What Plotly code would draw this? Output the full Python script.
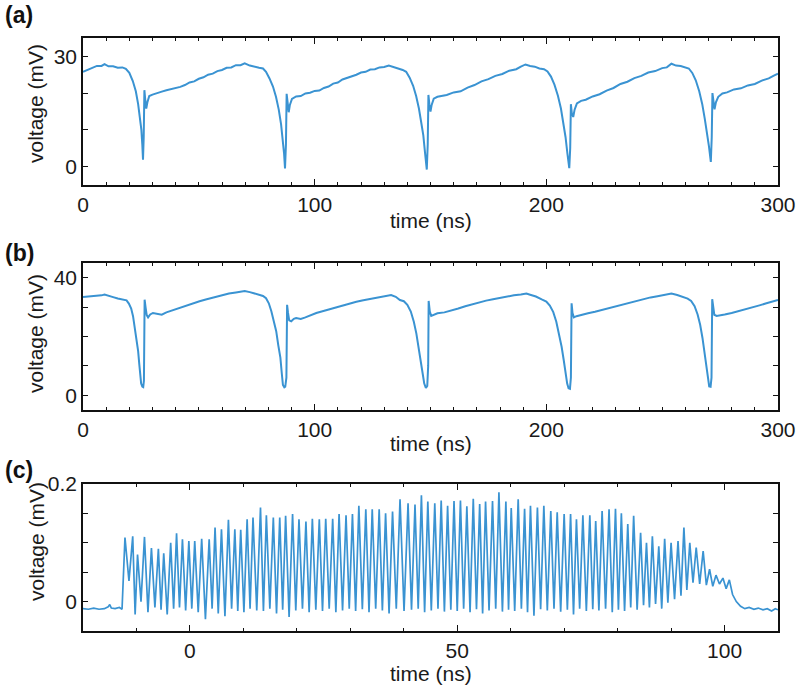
import plotly.graph_objects as go

# ---------------- Panel (a) ----------------
a_t = [0, 2, 4, 6, 8, 9.3, 11, 13, 15, 17, 18.5, 20, 21.5, 22.8, 23.8, 24.6, 25.2, 25.6, 25.9,
       26.2, 26.5, 26.9, 27.3, 27.8, 28.6, 30, 32, 34, 36, 38, 40, 42, 44, 46, 48, 50, 52, 54,
       56, 58, 60, 62, 64, 66, 68, 69.8, 72, 74, 76, 77.7, 79, 80.5, 82, 83.3, 84.5, 85.5, 86.2,
       86.8, 87.2, 87.6, 87.9, 88.3, 88.8, 89.3, 90.2, 92, 94, 96, 98, 100, 102, 104, 106, 108,
       110, 112, 114, 116, 118, 120, 122, 124, 126, 128, 130, 132, 134, 136, 138, 139.5, 141,
       142.5, 143.8, 145, 146, 146.9, 147.6, 148.4, 148.8, 149.1, 149.5, 150.0, 150.5, 151.4,
       153, 155, 157, 160, 163, 166, 169, 172, 175, 178, 181, 184, 187, 189, 191, 193, 195, 197,
       199, 200.5, 202, 203.5, 205, 206.3, 207.4, 208.3, 209.1, 209.9, 210.3, 210.6, 211.0,
       211.6, 212.2, 213.2, 215, 217, 220, 223, 226, 229, 232, 235, 238, 241, 244, 247, 250,
       252, 254, 256, 258, 260, 261.5, 263, 264.5, 266, 267.3, 268.4, 269.3, 270.2, 271.0,
       271.4, 271.7, 272.1, 272.6, 273.2, 274.2, 276, 278, 281, 284, 287, 290, 293, 296, 298, 300]
a_v = [25.8, 26.4, 26.8, 27.4, 27.4, 27.9, 27.3, 27.3, 26.9, 27.0, 26.6, 25.5, 23.3, 20.5, 17.0,
       13.5, 10.0, 6.0, 1.9, 8.0, 20.8, 18.0, 15.8, 17.5, 19.2, 19.6, 20.1, 20.4, 20.8, 21.1,
       21.3, 21.7, 22.2, 22.9, 23.2, 23.9, 24.3, 25.0, 25.3, 26.0, 26.3, 26.9, 27.0, 27.6, 27.6,
       28.1, 27.5, 27.3, 26.9, 26.7, 25.8, 24.0, 21.8, 19.0, 15.5, 11.5, 8.0, 3.5, -0.5, 6.0,
       19.8, 17.0, 14.8, 16.8, 18.4, 19.1, 19.2, 19.9, 20.1, 20.6, 20.7, 21.4, 21.8, 22.6, 22.9,
       23.7, 24.1, 24.7, 25.0, 25.6, 25.8, 26.4, 26.5, 27.0, 27.1, 27.5, 27.0, 26.7, 26.3, 25.8,
       24.2, 22.0, 19.2, 15.8, 12.0, 8.5, 4.0, -0.8, 6.0, 19.5, 17.0, 15.0, 16.8, 18.5, 19.0,
       19.3, 19.5, 20.2, 20.5, 21.5, 22.2, 23.2, 23.8, 24.7, 25.2, 26.1, 26.5, 27.2, 27.8, 27.4,
       27.2, 26.7, 26.5, 25.9, 24.5, 22.3, 19.3, 15.8, 11.8, 8.0, 3.5, -0.4, 5.0, 17.0, 14.5,
       13.5, 15.5, 17.2, 17.9, 18.2, 19.1, 19.7, 20.7, 21.4, 22.5, 23.1, 24.1, 24.7, 25.6, 26.0,
       26.8, 27.0, 28.0, 27.5, 27.4, 26.9, 26.7, 25.5, 23.5, 20.5, 17.0, 13.0, 9.5, 5.5, 1.3,
       8.0, 20.0, 17.5, 15.6, 17.5, 19.0, 19.9, 20.2, 21.0, 21.3, 22.1, 22.5, 23.4, 24.0, 24.7,
       25.3]

# ---------------- Panel (b) ----------------
b_t = [0, 2, 4, 6, 8, 9.3, 11, 13, 15, 17.3, 18.8, 19.8, 20.8, 21.6, 22.5, 23.2, 23.8, 24.3,
       24.7, 25.1, 25.6, 26.0, 26.3, 26.6, 27.0, 27.5, 28.1, 29, 30.2, 32, 34, 36, 37.4, 40,
       43.2, 46, 48, 50.3, 53, 56, 58, 60.4, 63, 66, 68, 69.8, 72, 74, 76, 77.7, 79, 80.2, 81.3,
       82.3, 83.4, 84.3, 85.2, 85.8, 86.3, 86.9, 87.3, 87.8, 88.1, 88.5, 89.0, 89.9, 91, 92, 94,
       96, 98, 100.7, 103, 106, 109, 112, 115, 118, 121, 124, 127, 129, 131, 133, 135, 136.8,
       138.5, 140, 141.5, 142.8, 143.9, 144.9, 145.8, 146.6, 147.3, 148.0, 148.6, 149.0, 149.2,
       149.7, 150.3, 151.5, 153, 156, 159, 162, 165, 168, 171, 174, 177, 180, 183, 186, 189,
       191.4, 193, 195.5, 198, 200, 201.5, 203, 204.3, 205.5, 206.6, 207.5, 208.3, 209.0, 209.6,
       210.2, 210.6, 210.9, 211.3, 211.9, 213, 215, 218, 221, 224, 227, 230, 233, 236, 239, 242,
       245, 248, 251, 254, 256.5, 259, 261, 262.5, 264, 265.3, 266.4, 267.4, 268.3, 269.0, 269.7,
       270.3, 270.9, 271.3, 271.6, 272.0, 272.5, 273.5, 275, 277, 280, 283, 286, 289, 292, 295,
       298, 300]
b_v = [33.4, 33.5, 33.7, 33.8, 34.0, 34.3, 34.0, 33.4, 32.9, 32.5, 32.3, 31.2, 29.5, 26.9, 22.5,
       18.5, 15.0, 10.5, 7.0, 4.0, 3.0, 2.8, 5.0, 32.5, 30.0, 27.3, 26.5, 27.5, 28.0, 27.6, 27.4,
       28.2, 28.6, 29.2, 30.0, 30.8, 31.4, 32.0, 32.6, 33.2, 33.6, 34.2, 34.6, 35.0, 35.3, 35.5,
       35.1, 34.6, 34.2, 33.8, 33.0, 31.3, 28.6, 25.5, 21.8, 17.0, 12.8, 7.5, 3.5, 2.7, 2.9, 6.0,
       30.8, 28.0, 25.5, 25.2, 26.0, 26.3, 26.0, 26.5, 27.2, 28.0, 28.5, 29.2, 29.9, 30.6, 31.2,
       31.8, 32.3, 32.8, 33.3, 33.6, 34.0, 34.1, 33.5, 32.4, 32.0, 30.8, 28.5, 25.0, 21.0, 16.5,
       12.0, 7.5, 4.0, 2.5, 3.2, 10.0, 32.1, 28.5, 27.0, 27.4, 27.9, 28.2, 28.8, 29.5, 30.3,
       31.0, 31.6, 32.2, 32.7, 33.2, 33.6, 34.0, 34.3, 34.6, 34.2, 33.6, 32.6, 31.9, 30.5, 28.3,
       25.0, 21.0, 16.5, 12.0, 7.5, 4.0, 2.4, 2.2, 6.0, 31.3, 28.0, 26.5, 26.9, 27.4, 27.9, 28.4,
       29.0, 29.7, 30.4, 31.0, 31.6, 32.2, 32.8, 33.3, 33.7, 34.1, 34.6, 34.1, 33.4, 32.9, 32.1,
       30.3, 27.5, 24.0, 19.5, 14.5, 9.5, 5.5, 3.0, 2.9, 6.0, 32.7, 29.5, 27.4, 27.0, 27.3, 27.5,
       28.0, 28.6, 29.2, 29.9, 30.6, 31.3, 32.0, 32.4]

# ---------------- Panel (c) ----------------
c_pre_t = [-20, -19, -18, -17, -16, -15.3, -15, -14.7, -14, -13.2, -12.7]
c_pre_v = [-0.012, -0.013, -0.011, -0.013, -0.012, -0.009, -0.005, -0.011, -0.012, -0.010, -0.013]

c_peak_t = [-12.15, -10.7, -9.8, -8.5, -7.2, -5.9, -4.9, -3.6, -2.5, -1.4,
            -0.2, 0.9, 2.2, 3.6, 4.7, 5.9, 7.2, 8.4, 9.5, 10.7,
            11.8, 13.2, 14.3, 15.6, 16.8, 17.9, 19.2, 20.4, 21.7, 22.9,
            24.2, 25.4, 26.7, 27.9, 29.2, 30.4, 31.6, 32.9, 34.1, 35.4,
            36.6, 37.9, 39.3, 40.8, 42.1, 43.3, 44.5, 45.8, 47.0, 48.2,
            49.4, 50.6, 51.8, 53.0, 54.2, 55.3, 56.6, 57.8, 59.1, 60.1,
            61.4, 62.6, 63.7, 65.0, 66.2, 67.5, 68.7, 70.0, 71.2, 72.3,
            73.5, 74.8, 75.9, 77.1, 78.4, 79.6, 80.7, 81.9, 83.0, 84.3,
            85.4, 86.5, 87.7, 88.8, 90.0, 91.3, 92.4, 93.5, 94.7, 96.0,
            97.2, 98.4, 99.7, 100.9]
c_peak_v = [0.109, 0.111, 0.080, 0.110, 0.091, 0.090, 0.082, 0.100, 0.116, 0.106,
            0.103, 0.103, 0.107, 0.106, 0.126, 0.123, 0.139, 0.123, 0.122, 0.140,
            0.143, 0.160, 0.147, 0.143, 0.143, 0.146, 0.149, 0.140, 0.136, 0.141,
            0.140, 0.141, 0.141, 0.149, 0.147, 0.149, 0.163, 0.157, 0.157, 0.157,
            0.150, 0.153, 0.174, 0.167, 0.165, 0.181, 0.170, 0.167, 0.172, 0.163,
            0.171, 0.172, 0.162, 0.175, 0.166, 0.170, 0.171, 0.186, 0.170, 0.159,
            0.174, 0.158, 0.163, 0.160, 0.163, 0.154, 0.152, 0.149, 0.149, 0.140,
            0.147, 0.147, 0.137, 0.154, 0.157, 0.158, 0.150, 0.132, 0.146, 0.117,
            0.100, 0.111, 0.094, 0.107, 0.100, 0.103, 0.126, 0.100, 0.092, 0.086,
            0.055, 0.045, 0.040, 0.037]

c_trough_t = [-11.4, -10.25, -9.15, -7.85, -6.55, -5.4, -4.25, -3.05, -1.95, -0.8,
              0.35, 1.55, 2.9, 4.15, 5.3, 6.55, 7.8, 8.95, 10.1, 11.25,
              12.5, 13.75, 14.95, 16.2, 17.35, 18.55, 19.8, 21.05, 22.3, 23.55,
              24.8, 26.05, 27.3, 28.55, 29.8, 31.0, 32.25, 33.5, 34.75, 36.0,
              37.25, 38.6, 40.05, 41.45, 42.7, 43.9, 45.15, 46.4, 47.6, 48.8,
              50.0, 51.2, 52.4, 53.6, 54.75, 55.95, 57.2, 58.45, 59.6, 60.75,
              62.0, 63.15, 64.35, 65.6, 66.85, 68.1, 69.35, 70.6, 71.75, 72.9,
              74.15, 75.35, 76.5, 77.75, 79.0, 80.15, 81.3, 82.45, 83.65, 84.85,
              85.95, 87.1, 88.25, 89.4, 90.65, 91.85, 92.95, 94.1, 95.35, 96.6,
              97.8, 99.05, 100.3]
c_trough_v = [0.035, -0.022, 0.000, -0.018, -0.010, -0.014, -0.022, -0.012, -0.010, -0.015,
              -0.012, -0.018, -0.030, -0.012, -0.020, -0.025, -0.012, -0.016, -0.018, -0.012,
              -0.015, -0.016, -0.012, -0.020, -0.014, -0.026, -0.015, -0.012, -0.018, -0.014,
              -0.016, -0.012, -0.018, -0.015, -0.012, -0.016, -0.013, -0.018, -0.012, -0.015,
              -0.020, -0.012, -0.016, -0.014, -0.012, -0.018, -0.015, -0.012, -0.017, -0.014,
              -0.016, -0.012, -0.018, -0.013, -0.020, -0.015, -0.012, -0.017, -0.014, -0.016,
              -0.012, -0.018, -0.024, -0.013, -0.015, -0.012, -0.017, -0.014, -0.022, -0.012,
              -0.016, -0.013, -0.015, -0.012, -0.018, -0.014, -0.016, -0.010, -0.014, -0.006,
              -0.010, -0.004, -0.012, -0.002, 0.004, 0.010, 0.020, 0.032, 0.030, 0.028,
              0.026, 0.030, 0.022]

c_post_t = [101.5, 102.2, 103, 103.8, 104.6, 105.5, 106.3, 107.2, 108, 108.8, 109.5, 110]
c_post_v = [0.012, 0.000, -0.008, -0.012, -0.010, -0.013, -0.011, -0.014, -0.012, -0.016, -0.012, -0.014]

# merge panel (c) samples in time order
c_pairs = sorted(zip(c_pre_t + c_peak_t + c_trough_t + c_post_t,
                     c_pre_v + c_peak_v + c_trough_v + c_post_v))
c_t = [p[0] for p in c_pairs]
c_v = [p[1] for p in c_pairs]

LINE = "#3a93d2"
FONT = "Liberation Sans, Arial, Helvetica, sans-serif"
INK = "#1a1a1a"

fig = go.Figure()
fig.add_trace(go.Scatter(x=a_t, y=a_v, mode="lines", line=dict(color=LINE, width=2),
                         xaxis="x", yaxis="y", showlegend=False))
fig.add_trace(go.Scatter(x=b_t, y=b_v, mode="lines", line=dict(color=LINE, width=2),
                         xaxis="x2", yaxis="y2", showlegend=False))
fig.add_trace(go.Scatter(x=c_t, y=c_v, mode="lines", line=dict(color=LINE, width=1.7),
                         xaxis="x3", yaxis="y3", showlegend=False))

W, H = 800, 691
XL, XR = 83, 778
xdom = [XL / W, XR / W]
panels = [(38, 185), (263, 410), (484, 631)]
def ydom(top, bot):
    return [1 - bot / H, 1 - top / H]

tickfont = dict(family=FONT, size=21, color=INK)
titlefont = dict(family=FONT, size=21, color=INK)

def xax(rng, major, anchor):
    return dict(domain=xdom, range=rng, anchor=anchor, automargin=False,
                showgrid=False, zeroline=False,
                showline=True, linecolor="#111", linewidth=1.5, mirror="ticks",
                ticks="inside", ticklen=6, tickwidth=1.3, tickcolor="#111",
                tickvals=major, tickfont=tickfont,
                minor=dict(dtick=10, tick0=0, ticks="inside", ticklen=3.5, tickwidth=1, tickcolor="#111"))

def yax(rng, vals, texts, anchor, dom):
    return dict(domain=dom, range=rng, anchor=anchor, automargin=False,
                showgrid=False, zeroline=False,
                showline=True, linecolor="#111", linewidth=1.5, mirror="ticks",
                ticks="inside", ticklen=5, tickwidth=1.3, tickcolor="#111",
                tickvals=vals, ticktext=texts, tickfont=tickfont)

def px(xp, yp):
    return xp / W, 1 - yp / H

annots = []
lab = dict(family=FONT, size=23, color="#111")
for text, yp in [("<b>(a)</b>", 15), ("<b>(b)</b>", 253), ("<b>(c)</b>", 470)]:
    x, y = px(3, yp)
    annots.append(dict(text=text, x=x, y=y, xref="paper", yref="paper",
                       xanchor="left", yanchor="middle", showarrow=False, font=lab))
for yp in [220, 443, 673]:
    x, y = px((XL + XR) / 2, yp)
    annots.append(dict(text="time (ns)", x=x, y=y, xref="paper", yref="paper",
                       xanchor="center", yanchor="middle", showarrow=False, font=titlefont))
for yp in [104, 334, 542]:
    x, y = px(36, yp)
    annots.append(dict(text="voltage (mV)", x=x, y=y, xref="paper", yref="paper", textangle=-90,
                       xanchor="center", yanchor="middle", showarrow=False, font=titlefont))

fig.update_layout(
    width=W, height=H, margin=dict(l=0, r=0, t=0, b=0),
    paper_bgcolor="white", plot_bgcolor="white",
    font=dict(family=FONT, color=INK),
    xaxis=xax([0, 300], [0, 100, 200, 300], "y"),
    yaxis=yax([-5, 35], [0, 10, 20, 30], ["0", "", "", "30"], "x", ydom(*panels[0])),
    xaxis2=xax([0, 300], [0, 100, 200, 300], "y2"),
    yaxis2=yax([-5, 45], [0, 10, 20, 30, 40], ["0", "", "", "", "40"], "x2", ydom(*panels[1])),
    xaxis3=xax([-20, 110], [0, 50, 100], "y3"),
    yaxis3=yax([-0.05, 0.2], [0, 0.05, 0.1, 0.15, 0.2], ["0", "", "", "", "0.2"], "x3", ydom(*panels[2])),
    annotations=annots,
)

# remove the browser's default 8px page margin so the 800x691 figure fills the window exactly
fig.write_html("out.html", config={"displayModeBar": False},
               post_script="document.body.style.margin='0px';document.body.style.overflow='hidden';")
